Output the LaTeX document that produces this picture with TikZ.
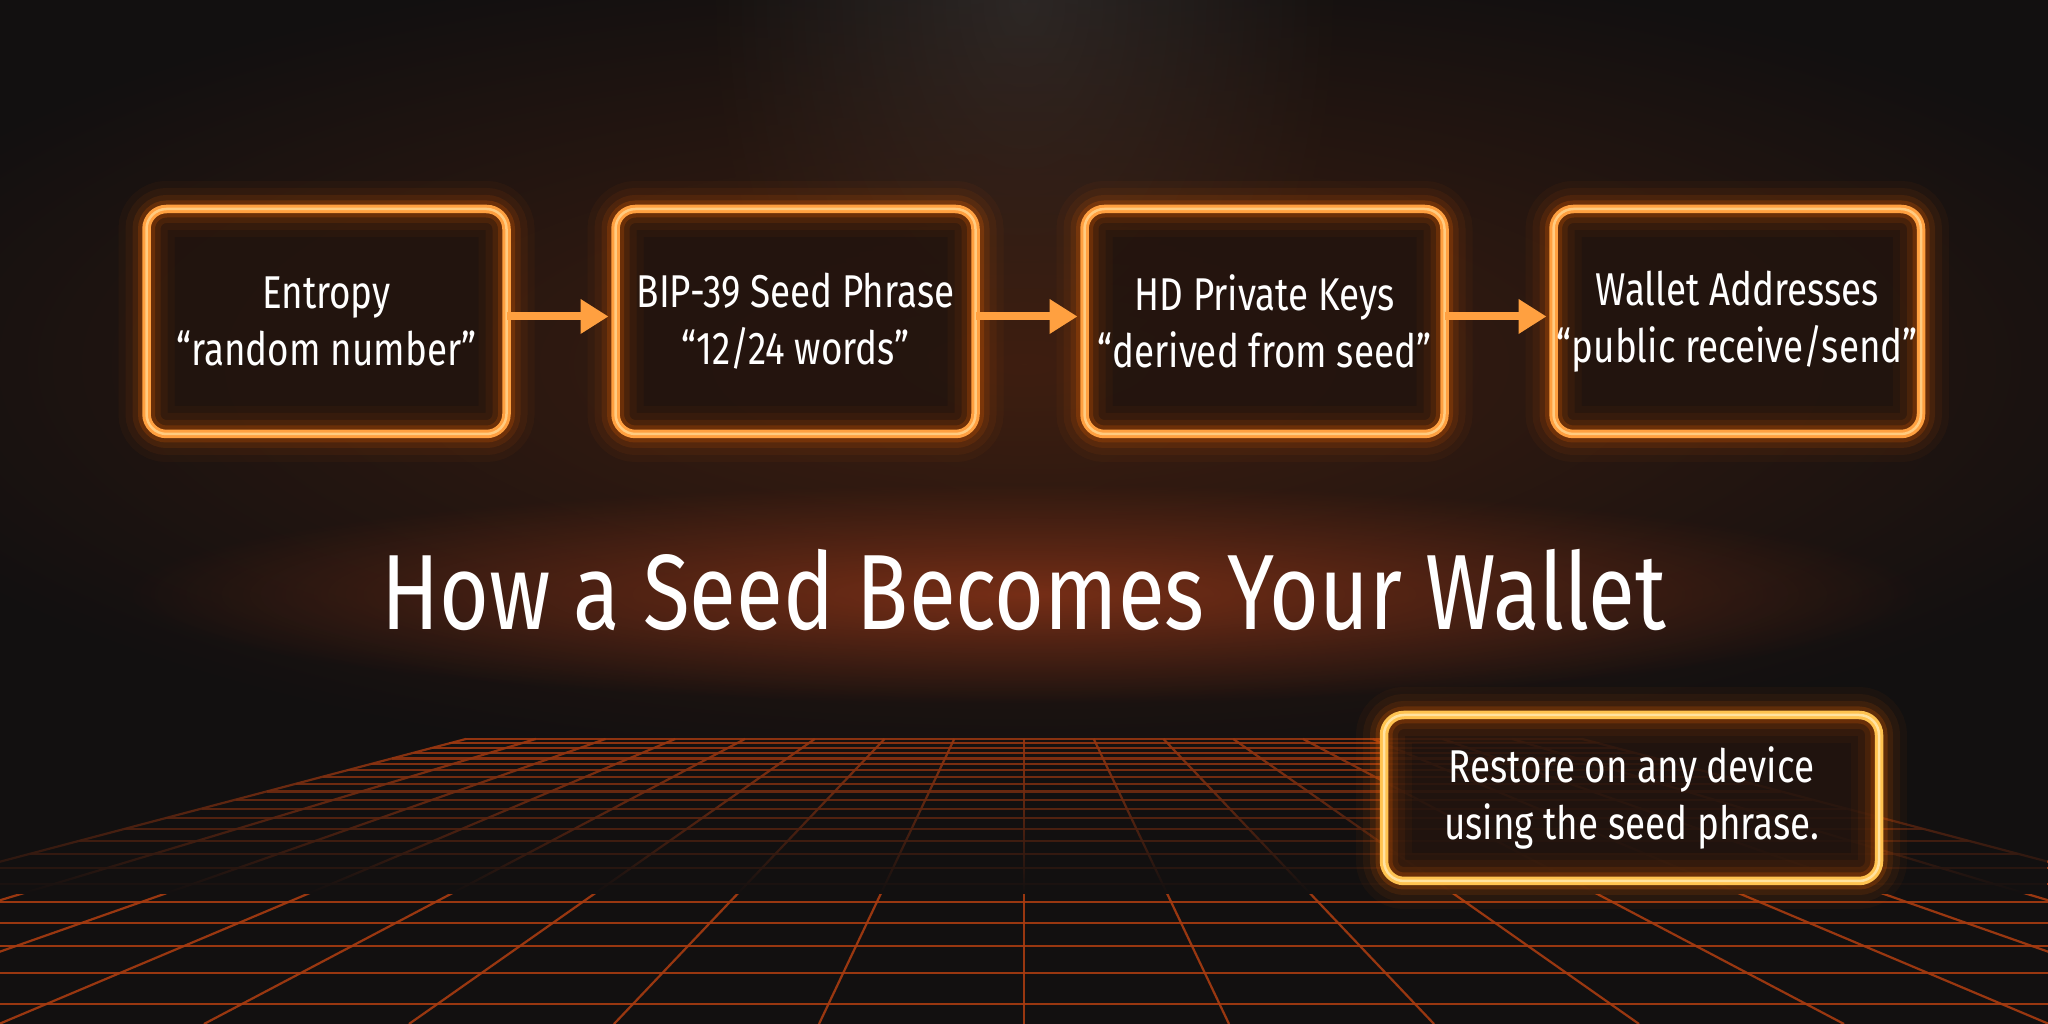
\documentclass[tikz,border=0pt]{standalone}
\usepackage{fontspec}
\setmainfont{Fira Sans}[FakeStretch=0.8]
\usetikzlibrary{positioning, arrows.meta, fadings}

\definecolor{bgdark}{HTML}{121010}
\definecolor{haze}{HTML}{3E1E10}
\definecolor{smoke}{HTML}{3A3A3A}
\definecolor{rim}{HTML}{FFA040}
\definecolor{rimcore}{HTML}{FFCB80}
\definecolor{rimglow}{HTML}{FF6A00}
\definecolor{restorerim}{HTML}{FFC350}
\definecolor{restorecore}{HTML}{FFE2A0}
\definecolor{boxfill}{HTML}{22140E}
\definecolor{gridline}{HTML}{A83C10}
\definecolor{titleglow}{HTML}{8A3418}

\tikzfading[name=softglow, inner color=transparent!0, outer color=transparent!100]

\tikzset{
    glowbox/.style 2 args={rectangle, rounded corners=20pt, outer sep=0pt,
        align=center, text=white, font=\fontsize{46}{57}\selectfont,
        preaction={fill=boxfill, fill opacity=.88},
        preaction={draw=rimglow, line width=56pt, draw opacity=.04},
        preaction={draw=rimglow, line width=42pt, draw opacity=.06},
        preaction={draw=rimglow, line width=28pt, draw opacity=.1},
        preaction={draw=rimglow, line width=17pt, draw opacity=.18},
        draw=#1, line width=8.5pt,
        postaction={draw=#2, line width=2.5pt}},
    stage/.style={glowbox={rim}{rimcore}, minimum width=360pt, minimum height=225pt},
    restorebox/.style={glowbox={restorerim}{restorecore}, minimum width=495pt, minimum height=166pt},
    link/.style={-{Triangle[length=28pt,width=33pt]}, draw=rim, line width=8pt, shorten >=7pt},
    grid line/.style={draw=gridline, line width=2.2pt, draw opacity=.9},
    headline/.style={anchor=base, font=\fontsize{107}{107}\selectfont}
}

\begin{document}
\begin{tikzpicture}[x=1pt, y=1pt]
    \useasboundingbox (0,0) rectangle (2048,1024);
    \fill[bgdark] (0,0) rectangle (2048,1024);

    % floor grid
    \begin{scope}
        \clip (0,0) rectangle (2048,1024);
        \foreach \k in {0,...,22}{
            \pgfmathsetmacro{\d}{1000/(2.427+0.199*\k)}
            \draw[grid line] ({1024-3.796*\d},{432-\d}) -- ({1024+3.796*\d},{432-\d});
        }
        \foreach \j in {-8,...,8}
            \draw[grid line] ({1024+205*\j},0) -- ({1024+69.74*\j},285.05);
    \end{scope}
    \fill[bgdark, path fading=north] (0,130) rectangle (2048,292);

    % glows
    \fill[smoke, path fading=softglow, opacity=.6] (1024,1024) ellipse [x radius=320, y radius=520];
    \fill[haze, path fading=softglow] (1024,660) ellipse [x radius=1250, y radius=420];
    \fill[titleglow, path fading=softglow, opacity=.8] (1024,430) ellipse [x radius=900, y radius=110];

    \node[stage] (entropy) at (326.5,702.5) {Entropy\\“random number”};
    \node[stage, right=109pt of entropy] (seed) {BIP-39 Seed Phrase\\“12/24 words”};
    \node[stage, right=109pt of seed] (keys) {HD Private Keys\\“derived from seed”};
    \node[stage, right=109pt of keys] (addr) {Wallet Addresses\\“public receive/send”};

    \draw
        ([yshift=5pt]entropy.east) edge[link] ([yshift=5pt]seed.west)
        ([yshift=5pt]seed.east) edge[link] ([yshift=5pt]keys.west)
        ([yshift=5pt]keys.east) edge[link] ([yshift=5pt]addr.west)
        ;

    \node[headline, text=white] (title) at (1024,394) {How a Seed Becomes Your Wallet};

    \node[restorebox] (restore) at (1631.5,226) {Restore on any device\\using the seed phrase.};
\end{tikzpicture}
\end{document}
